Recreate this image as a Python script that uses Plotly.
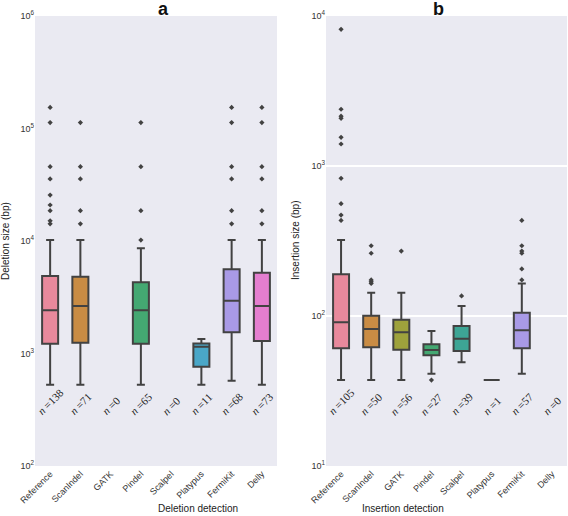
import plotly.graph_objects as go

CATEGORIES = ["Reference", "ScanIndel", "GATK", "Pindel", "Scalpel", "Platypus", "FermiKit", "Delly"]
COLORS = ["#e8899c", "#c98c44", "#9ea23c", "#44a872", "#3da595", "#4aa7c8", "#a99ae6", "#e47ecf"]

# Deletion sizes (bp) - panel a
DEL_LO = [528, 528, None, 528, None, 528, 573, 528]
DEL_Q1 = [1222, 1247, None, 1222, None, 764, 1542, 1290]
DEL_MED = [2420, 2640, None, 2420, None, 1150, 2945, 2640]
DEL_Q3 = [4890, 4820, None, 4300, None, 1230, 5600, 5220]
DEL_HI = [10200, 10200, None, 8600, None, 1345, 10200, 10200]
DEL_OUT = [
    [14200, 15100, 18600, 20900, 25600, 35600, 45800, 113000, 154000],
    [14200, 18600, 35600, 45800, 113000],
    [],
    [10200, 18600, 45800, 113000],
    [],
    [],
    [14200, 18600, 35600, 45800, 113000, 154000],
    [14200, 18600, 35600, 45800, 113000, 154000],
]
DEL_N = [138, 71, 0, 65, 0, 11, 68, 73]
DEL_TICKS = [100, 1000, 10000, 100000, 1000000]
DEL_TICKTEXT = ["10<sup>2</sup>", "10<sup>3</sup>", "10<sup>4</sup>", "10<sup>5</sup>", "10<sup>6</sup>"]

# Insertion sizes (bp) - panel b
INS_LO = [37.4, 37.4, 37.4, 41.2, 49.1, 37.4, 41.2, None]
INS_Q1 = [60.9, 61.8, 59.6, 54.7, 58.5, 37.4, 60.9, None]
INS_MED = [90.8, 81.9, 77.8, 59.3, 70.6, 37.4, 80.4, None]
INS_Q3 = [190, 100.5, 94.4, 64.7, 85.8, 37.4, 105, None]
INS_HI = [321, 143, 143, 79.4, 116.6, 37.4, 165, None]
INS_OUT = [
    [434, 471, 561, 828, 1402, 1553, 2080, 2150, 2390, 8150],
    [165, 169, 174, 262, 294],
    [271],
    [37.4],
    [136],
    [],
    [174, 206, 262, 271, 294, 434],
    [],
]
INS_N = [105, 50, 56, 27, 39, 1, 57, 0]
INS_TICKS = [10, 100, 1000, 10000]
INS_TICKTEXT = ["10<sup>1</sup>", "10<sup>2</sup>", "10<sup>3</sup>", "10<sup>4</sup>"]

LINE = "#424242"
FONT = "Liberation Sans, Arial, sans-serif"

fig = go.Figure()


def add_panel(lo, q1, med, q3, hi, outs, xa, ya):
    for i, cat in enumerate(CATEGORIES):
        if q1[i] is None:
            continue
        fig.add_trace(go.Box(
            x=[cat], q1=[q1[i]], median=[med[i]], q3=[q3[i]],
            lowerfence=[lo[i]], upperfence=[hi[i]],
            fillcolor=COLORS[i], line=dict(color=LINE, width=2),
            width=0.53, whiskerwidth=0.5, boxpoints=False,
            xaxis=xa, yaxis=ya, showlegend=False, hoverinfo="skip"))
    ox, oy = [], []
    for i, cat in enumerate(CATEGORIES):
        for v in outs[i]:
            ox.append(cat)
            oy.append(v)
    fig.add_trace(go.Scatter(
        x=ox, y=oy, mode="markers",
        marker=dict(symbol="diamond", size=4, color=LINE),
        xaxis=xa, yaxis=ya, showlegend=False, hoverinfo="skip"))


add_panel(DEL_LO, DEL_Q1, DEL_MED, DEL_Q3, DEL_HI, DEL_OUT, "x", "y")
add_panel(INS_LO, INS_Q1, INS_MED, INS_Q3, INS_HI, INS_OUT, "x2", "y2")

annotations = []
for xr, ns in (("x", DEL_N), ("x2", INS_N)):
    for cat, n in zip(CATEGORIES, ns):
        annotations.append(dict(
            x=cat, xref=xr, y=1 - 420 / 516, yref="paper", text="<i>n</i> =%d" % n,
            showarrow=False, textangle=-45,
            font=dict(family="Liberation Serif, DejaVu Serif, serif", size=11, color="#222")))

TITLE_FONT = dict(family=FONT, size=18, color="#111")
LABEL_FONT = dict(family=FONT, size=10, color="#222")
annotations += [
    dict(x=156 / 568, xref="paper", y=1 - 9 / 516, yref="paper", text="<b>a</b>",
         showarrow=False, font=TITLE_FONT, yanchor="middle"),
    dict(x=446 / 568, xref="paper", y=1 - 9 / 516, yref="paper", text="<b>b</b>",
         showarrow=False, font=TITLE_FONT, yanchor="middle"),
    dict(x=156 / 568, xref="paper", y=1 - 508 / 516, yref="paper", text="Deletion detection",
         showarrow=False, font=LABEL_FONT, yanchor="middle"),
    dict(x=446 / 568, xref="paper", y=1 - 508 / 516, yref="paper", text="Insertion detection",
         showarrow=False, font=LABEL_FONT, yanchor="middle"),
    dict(x=6 / 568, xref="paper", y=1 - 241 / 516, yref="paper", text="Deletion size (bp)",
         showarrow=False, font=LABEL_FONT, textangle=-90, xanchor="center", yanchor="middle"),
    dict(x=296 / 568, xref="paper", y=1 - 241 / 516, yref="paper", text="Insertion size (bp)",
         showarrow=False, font=LABEL_FONT, textangle=-90, xanchor="center", yanchor="middle"),
]

xcommon = dict(type="category", categoryorder="array", categoryarray=CATEGORIES,
               range=[-0.5, 7.5], tickangle=-45, showgrid=False, zeroline=False,
               tickfont=dict(family=FONT, size=9, color="#333"), ticks="",
               automargin=False)
ycommon = dict(type="log", zeroline=False, tickmode="array",
               tickfont=dict(family=FONT, size=9, color="#333"), ticks="",
               automargin=False)

fig.update_layout(
    width=568, height=516,
    margin=dict(l=0, r=0, t=0, b=0, autoexpand=False),
    paper_bgcolor="white", plot_bgcolor="#eaeaf2",
    annotations=annotations,
    xaxis=dict(domain=[35 / 568, 277 / 568], anchor="y", **xcommon),
    yaxis=dict(domain=[50 / 516, 500 / 516], anchor="x", range=[2, 6], showgrid=False,
               tickvals=DEL_TICKS, ticktext=DEL_TICKTEXT, **ycommon),
    xaxis2=dict(domain=[326 / 568, 567 / 568], anchor="y2", **xcommon),
    yaxis2=dict(domain=[50 / 516, 500 / 516], anchor="x2", range=[1, 4], showgrid=True,
                gridcolor="white", gridwidth=1.5,
                tickvals=INS_TICKS, ticktext=INS_TICKTEXT, **ycommon),
)

fig.write_html("out.html", config={"displayModeBar": False},
               post_script="document.body.style.margin='0';document.body.style.overflow='hidden';")
